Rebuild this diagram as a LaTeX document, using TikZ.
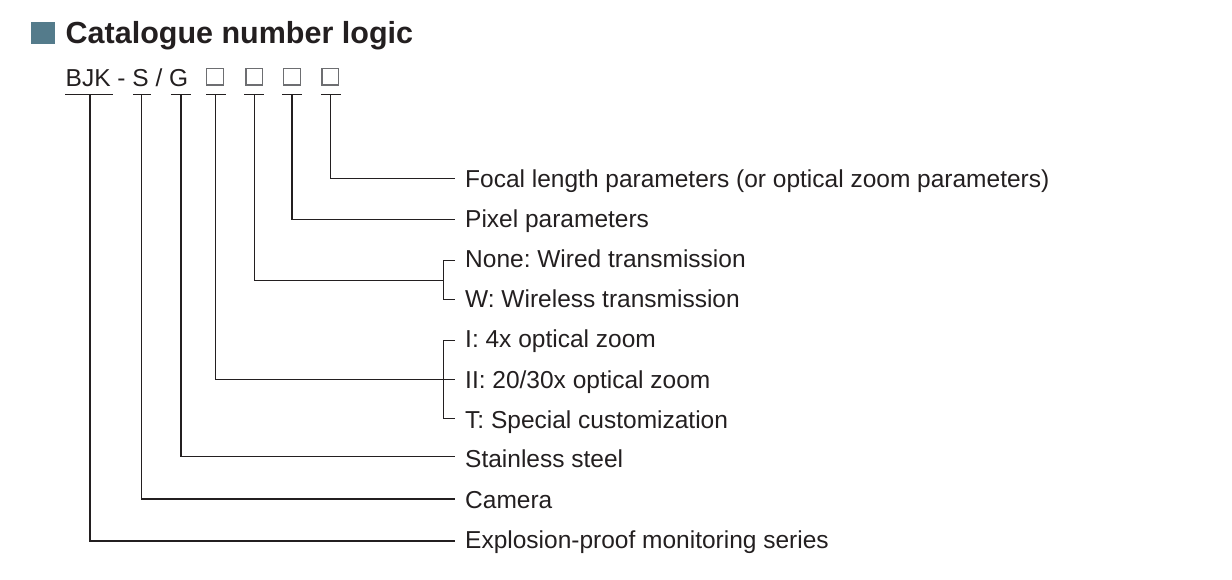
\documentclass[tikz,border=0pt]{standalone}
\usepackage{fontspec}
\setmainfont{Liberation Sans}
\frenchspacing
\definecolor{ink}{HTML}{231F20}
\definecolor{boxgray}{HTML}{6D6E71}
\definecolor{titlesq}{HTML}{547B8B}
\begin{document}
\begin{tikzpicture}[x=1pt,y=-1pt,
  lbl/.style={anchor=base west,inner sep=0pt,text=ink,font=\fontsize{24.5}{29}\selectfont},
  codebox/.style={draw=boxgray,line width=1.2pt,minimum size=16.6pt,inner sep=0pt},
  conn/.style={draw=ink,line width=1.2pt},
  uline/.style={draw=ink,line width=1.2pt}]
\useasboundingbox (0,0) rectangle (1232,580);
% title
\fill[titlesq] (31,22.3) rectangle (55,44.3);
\node[anchor=base west,inner sep=0pt,text=ink,font=\fontsize{30.5}{36}\selectfont\bfseries] (title) at (65.5,43.2) {Catalogue number logic};
% code
\node[lbl] (code) at (65.5,86.5) {BJK - S / G};
\node[codebox] (b1) at (215,76.7) {};
\node[codebox] (b2) at (254.2,76.7) {};
\node[codebox] (b3) at (292,76.7) {};
\node[codebox] (b4) at (330.2,76.7) {};
% underlines
\coordinate (u0l) at (65,94.3);    \coordinate (u0r) at (112.7,94.3);
\coordinate (u1l) at (133.3,94.3); \coordinate (u1r) at (150.7,94.3);
\coordinate (u2l) at (171,94.3);   \coordinate (u2r) at (190.7,94.3);
\coordinate (u3l) at (206,94.3);   \coordinate (u3r) at (225.7,94.3);
\coordinate (u4l) at (244.3,94.3); \coordinate (u4r) at (264,94.3);
\coordinate (u5l) at (282.3,94.3); \coordinate (u5r) at (302,94.3);
\coordinate (u6l) at (321,94.3);   \coordinate (u6r) at (340.7,94.3);
\foreach \i in {0,...,6} {\draw[uline] (u\i l) -- (u\i r);}
% tick points
\coordinate (t0) at (90,94.3);
\coordinate (t1) at (141.7,94.3);
\coordinate (t2) at (181,94.3);
\coordinate (t3) at (215.7,94.3);
\coordinate (t4) at (254.3,94.3);
\coordinate (t5) at (292,94.3);
\coordinate (t6) at (330.7,94.3);
% line ends
\coordinate (e1) at (455,178.3);
\coordinate (e2) at (455,219.3);
\coordinate (e3a) at (455,260.7);
\coordinate (e3b) at (455,299.3);
\coordinate (k3) at (443.3,280.3);
\coordinate (e4a) at (455,340.3);
\coordinate (e4b) at (455,379.3);
\coordinate (e4c) at (455,418.3);
\coordinate (e5) at (455,456.7);
\coordinate (e6) at (455,499);
\coordinate (e7) at (455,541);
% labels
\node[lbl] (l1) at (465,187.5) {Focal length parameters (or optical zoom parameters)};
\node[lbl] (l2) at (465,227.6) {Pixel parameters};
\node[lbl] (l3a) at (465,267.7) {None: Wired transmission};
\node[lbl] (l3b) at (465,307.8) {W: Wireless transmission};
\node[lbl] (l4a) at (465,347.9) {I: 4x optical zoom};
\node[lbl] (l4b) at (465,388) {II: 20/30x optical zoom};
\node[lbl] (l4c) at (465,428) {T: Special customization};
\node[lbl] (l5) at (465,467.8) {Stainless steel};
\node[lbl] (l6) at (465,508.8) {Camera};
\node[lbl] (l7) at (465,548.8) {Explosion-proof monitoring series};
% connectors
\draw[conn] (t6) |- (e1);
\draw[conn] (t5) |- (e2);
\draw[conn] (t4) |- (k3);
\draw[conn] (e3a) -- (k3 |- e3a) -- (k3 |- e3b) -- (e3b);
\draw[conn] (t3) |- (e4b);
\draw[conn] (e4a) -- (k3 |- e4a) -- (k3 |- e4c) -- (e4c);
\draw[conn] (t2) |- (e5);
\draw[conn] (t1) |- (e6);
\draw[conn] (t0) |- (e7);
\end{tikzpicture}
\end{document}
